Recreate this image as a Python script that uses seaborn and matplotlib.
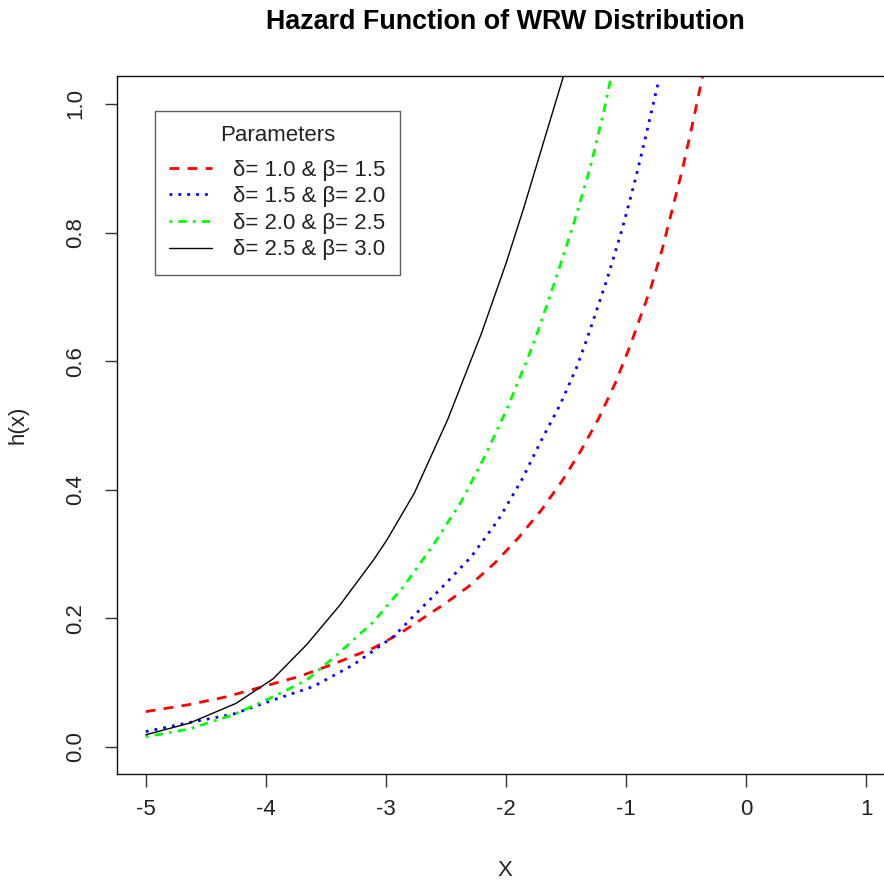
import numpy as np
import pandas as pd
import matplotlib
matplotlib.use("Agg")
import matplotlib.pyplot as plt
import seaborn as sns

sns.set_style("white")
plt.rcParams['font.family'] = ['Liberation Sans', 'DejaVu Sans']

# values
x_red = [-5, -4.638, -4.331, -4.023, -3.717, -3.438, -3.103, -2.880, -2.5, -2.316, -2.094, -1.898,
         -1.703, -1.536, -1.382, -1.228, -1.090, -0.964, -0.894, -0.797, -0.699, -0.615, -0.531,
         -0.448, -0.362]
y_red = [0.055, 0.066, 0.078, 0.094, 0.110, 0.129, 0.154, 0.177, 0.224, 0.249, 0.286, 0.325,
         0.369, 0.413, 0.459, 0.511, 0.566, 0.625, 0.662, 0.712, 0.774, 0.836, 0.898,
         0.968, 1.0435]

x_blue = [-5, -4.665, -4.274, -3.940, -3.605, -3.270, -2.936, -2.540, -2.289, -2.065, -1.870,
          -1.703, -1.550, -1.410, -1.312, -1.159, -1.033, -0.922, -0.838, -0.755, -0.732]
y_blue = [0.024, 0.037, 0.051, 0.073, 0.094, 0.128, 0.172, 0.247, 0.296, 0.353, 0.415,
          0.478, 0.532, 0.591, 0.642, 0.727, 0.805, 0.883, 0.948, 1.015, 1.033]

x_green = [-5, -4.638, -4.274, -3.940, -3.661, -3.410, -3.103, -2.847, -2.596, -2.372, -2.177,
           -1.996, -1.814, -1.731, -1.577, -1.438, -1.299, -1.187, -1.123]
y_green = [0.016, 0.028, 0.050, 0.078, 0.104, 0.143, 0.195, 0.251, 0.317, 0.382, 0.452,
           0.524, 0.607, 0.648, 0.733, 0.813, 0.901, 0.987, 1.0435]

x_black = [-5, -4.638, -4.247, -3.940, -3.661, -3.382, -3.103, -2.992, -2.763, -2.484, -2.205,
           -2.0, -1.856, -1.521]
y_black = [0.019, 0.037, 0.068, 0.106, 0.159, 0.221, 0.291, 0.322, 0.395, 0.51, 0.643,
           0.752, 0.836, 1.0435]

labels = ["δ= 1.0 & β= 1.5", "δ= 1.5 & β= 2.0", "δ= 2.0 & β= 2.5", "δ= 2.5 & β= 3.0"]
xticks = [-5, -4, -3, -2, -1, 0, 1]
yticks = [0.0, 0.2, 0.4, 0.6, 0.8, 1.0]

fig = plt.figure(figsize=(8.84, 8.81), dpi=100)
# axes box runs past the right edge, like the cropped R device
ax = fig.add_axes([117/884, 1 - 774/881, (895-117)/884, (774-76)/881])

series = [
    (x_red, y_red, "#ff0000", (0, (3.5, 3)), 2.0),
    (x_blue, y_blue, "#0000ff", (0, (1, 2.2)), 2.0),
    (x_green, y_green, "#00ff00", (0, (1, 2.2, 3, 2.2)), 2.0),
    (x_black, y_black, "#000000", "-", 1.0),
]
for (xs, ys, col, ls, lw), lab in zip(series, labels):
    sns.lineplot(x=xs, y=ys, color=col, linestyle=ls, linewidth=lw, label=lab,
                 sort=False, ax=ax)

ax.set_xlim(-5.24, 1.24)
ax.set_ylim(-0.042, 1.0435)
ax.set_xticks(xticks)
ax.set_xticklabels([str(t) for t in xticks])
ax.set_yticks(yticks)
ax.set_yticklabels([f"{t:.1f}" for t in yticks], rotation=90, va='center')

tc = '#222222'
ax.tick_params(axis='both', direction='out', length=9, width=1, color='#333333',
               labelsize=16, labelcolor=tc, bottom=True, left=True)
ax.tick_params(axis='x', pad=9)
ax.tick_params(axis='y', pad=13)
for s in ['left', 'bottom', 'top', 'right']:
    ax.spines[s].set_color('#111111')
    ax.spines[s].set_linewidth(1.0)

ax.set_xlabel("")
ax.set_ylabel("")
fig.text(505/884, 1 - 870/881, "X", ha='center', va='center', fontsize=16, color=tc)
fig.text(18/884, 1 - 425/881, "h(x)", ha='center', va='center', fontsize=16,
         color=tc, rotation=90)
fig.text(505/884, 1 - 22/881, "Hazard Function of WRW Distribution", ha='center',
         va='center', fontsize=19.4, fontweight='bold', color='black')

leg = ax.legend(title="Parameters", loc='upper left',
                bbox_to_anchor=(155/884, 1 - 111/881), bbox_transform=fig.transFigure,
                borderaxespad=0, fontsize=16, title_fontsize=16, frameon=True,
                fancybox=False, handlelength=1.9, handletextpad=0.95,
                labelspacing=0.25, borderpad=0.65)
leg._legend_box.sep = 9.5
leg.get_frame().set_edgecolor('#333333')
leg.get_frame().set_linewidth(1.0)
for t in leg.get_texts():
    t.set_color(tc)
leg.get_title().set_color(tc)

fig.savefig("out.png", dpi=100)
